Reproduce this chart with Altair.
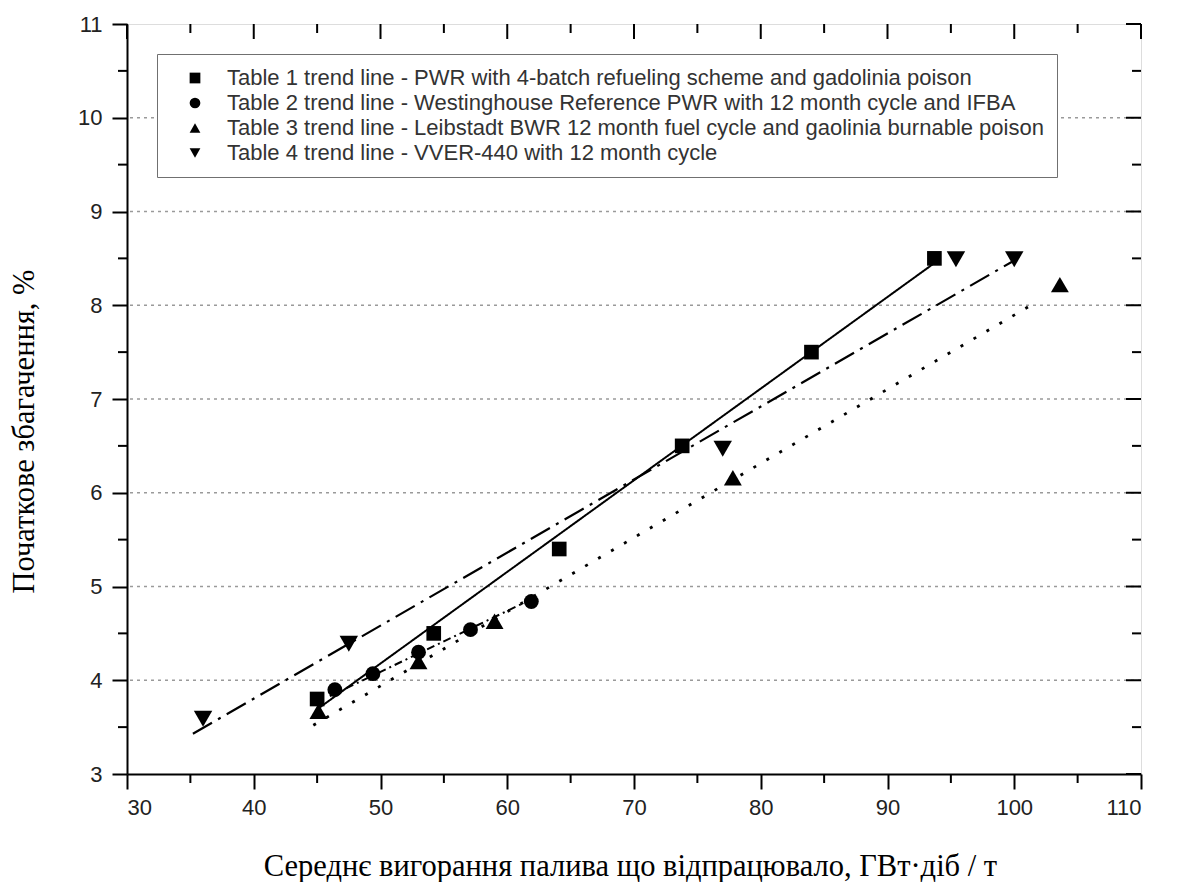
import altair as alt
import pandas as pd

# ---------------- data ----------------
series_labels = [
    "Table 1 trend line - PWR with 4-batch refueling scheme and gadolinia poison",
    "Table 2 trend line - Westinghouse Reference PWR with 12 month cycle and IFBA",
    "Table 3 trend line - Leibstadt BWR 12 month fuel cycle and gaolinia burnable poison",
    "Table 4 trend line - VVER-440 with 12 month cycle",
]
series_shapes = ["square", "circle", "triangle-up", "triangle-down"]
series_sizes = [215, 220, 320, 340]

t1_x = [45.0, 54.2, 64.1, 73.8, 84.0, 93.7]
t1_y = [3.8, 4.5, 5.4, 6.5, 7.5, 8.5]
t2_x = [46.4, 49.4, 53.0, 57.1, 61.9]
t2_y = [3.9, 4.07, 4.3, 4.54, 4.84]
t3_x = [45.1, 53.0, 59.0, 77.8, 103.6]
t3_y = [3.67, 4.2, 4.63, 6.16, 8.22]
t4_x = [36.0, 47.5, 77.0, 95.4, 100.0]
t4_y = [3.59, 4.39, 6.47, 8.49, 8.49]

# trend-line end points
trend1_x = [45.0, 93.7]
trend1_y = [3.69, 8.45]
trend2_x = [46.0, 62.0]
trend2_y = [3.83, 4.87]
trend3_x = [44.7, 101.7]
trend3_y = [3.52, 8.03]
trend4_x = [35.2, 99.9]
trend4_y = [3.43, 8.47]

x_major = [30, 40, 50, 60, 70, 80, 90, 100, 110]
x_minor = [35, 45, 55, 65, 75, 85, 95, 105]
y_major = [3, 4, 5, 6, 7, 8, 9, 10, 11]
y_minor = [3.5, 4.5, 5.5, 6.5, 7.5, 8.5, 9.5, 10.5]
grid_y = [4, 5, 6, 7, 8, 9, 10]

x_title = "Середнє вигорання палива що відпрацювало, ГВт·діб / т"
y_title = "Початкове збагачення, %"

trend_sets = [(trend1_x, trend1_y), (trend2_x, trend2_y), (trend3_x, trend3_y), (trend4_x, trend4_y)]
point_sets = [(t1_x, t1_y), (t2_x, t2_y), (t3_x, t3_y), (t4_x, t4_y)]
trend_styles = [
    {"strokeDash": [1, 0], "strokeWidth": 2.0},
    {"strokeDash": [8, 4, 2, 4], "strokeWidth": 2.0},
    {"strokeDash": [3, 12], "strokeWidth": 2.8},
    {"strokeDash": [22, 7, 3, 7], "strokeWidth": 2.2},
]

W, H = 1014, 750
FONT = "Liberation Sans"
SERIF = "Liberation Serif"

xscale = alt.Scale(domain=[30, 110], nice=False, zero=False)
yscale = alt.Scale(domain=[3, 11], nice=False, zero=False)

xaxis = alt.Axis(
    values=x_major, title=x_title, grid=False, domainColor="black", domainWidth=2,
    tickColor="black", tickWidth=2, tickSize=15, labelFont=FONT, labelFontSize=22,
    labelColor="#222", labelPadding=8, titleFont=SERIF, titleFontSize=30.5,
    titleFontWeight="normal", titleColor="black", titleX=503, titleY=92,
    titleBaseline="middle", titleAlign="center", format="d",
)
yaxis = alt.Axis(
    values=y_major, title=y_title, grid=False, domainColor="black", domainWidth=2,
    tickColor="black", tickWidth=2, tickSize=15, labelFont=FONT, labelFontSize=22,
    labelColor="#222", labelPadding=10, titleFont=SERIF, titleFontSize=30.5,
    titleFontWeight="normal", titleColor="black", titleX=-103, titleY=407,
    titleAngle=270, titleBaseline="middle", titleAlign="center", format="d",
)

X = alt.X("x:Q", scale=xscale, axis=xaxis)
Y = alt.Y("y:Q", scale=yscale, axis=yaxis)

legend = alt.Legend(
    title=None, orient="none", legendX=30, legendY=30,
    fillColor="white", strokeColor="#707070", padding=13,
    labelFont=FONT, labelFontSize=22, labelColor="#333333", labelLimit=0,
    labelOffset=21, symbolSize=115, symbolOffset=14, rowPadding=3,
    symbolFillColor="black", symbolStrokeColor="black",
)
S = alt.Shape("series:N", scale=alt.Scale(domain=series_labels, range=series_shapes), legend=legend)

layers = []

# grid lines
grid = alt.Chart(pd.DataFrame({"y": grid_y})).mark_rule(
    color="#9a9a9a", strokeDash=[3, 4], strokeWidth=1.4
).encode(y=Y)
layers.append(grid)

# trend lines
for (tx, ty), st in zip(trend_sets, trend_styles):
    df = pd.DataFrame({"x": tx, "y": ty})
    layers.append(
        alt.Chart(df).mark_line(color="black", strokeCap="butt", **st).encode(x=X, y=Y)
    )

# points, one layer per table (own marker size)
for lab, (px, py), sz in zip(series_labels, point_sets, series_sizes):
    df = pd.DataFrame({"series": [lab] * len(px), "x": px, "y": py})
    layers.append(
        alt.Chart(df).mark_point(filled=True, color="black", opacity=1, size=sz).encode(
            x=X, y=Y, shape=S
        )
    )

# minor ticks on bottom / left (outward), all ticks on top / right (inward)
xmin_df = pd.DataFrame({"x": x_minor})
xmaj_df = pd.DataFrame({"x": x_major})
ymin_df = pd.DataFrame({"y": y_minor})
ymaj_df = pd.DataFrame({"y": y_major})

layers.append(alt.Chart(xmin_df).mark_rule(color="black", strokeWidth=2).encode(
    x=X, y=alt.value(H), y2=alt.value(H + 9)))
layers.append(alt.Chart(ymin_df).mark_rule(color="black", strokeWidth=2).encode(
    y=Y, x=alt.value(0), x2=alt.value(-9)))
layers.append(alt.Chart(xmaj_df).mark_rule(color="black", strokeWidth=2).encode(
    x=X, y=alt.value(0), y2=alt.value(15)))
layers.append(alt.Chart(xmin_df).mark_rule(color="black", strokeWidth=2).encode(
    x=X, y=alt.value(0), y2=alt.value(9)))
layers.append(alt.Chart(ymaj_df).mark_rule(color="black", strokeWidth=2).encode(
    y=Y, x=alt.value(W), x2=alt.value(W - 15)))
layers.append(alt.Chart(ymin_df).mark_rule(color="black", strokeWidth=2).encode(
    y=Y, x=alt.value(W), x2=alt.value(W - 9)))

chart = alt.layer(*layers).properties(
    width=W, height=H,
    autosize=alt.AutoSizeParams(type="none"),
    padding={"left": 119, "top": 16, "right": 30, "bottom": 108},
).configure_view(
    stroke="black", strokeWidth=2
).configure(background="white")

chart.save("out.html", embed_options={"renderer": "svg", "actions": False})
